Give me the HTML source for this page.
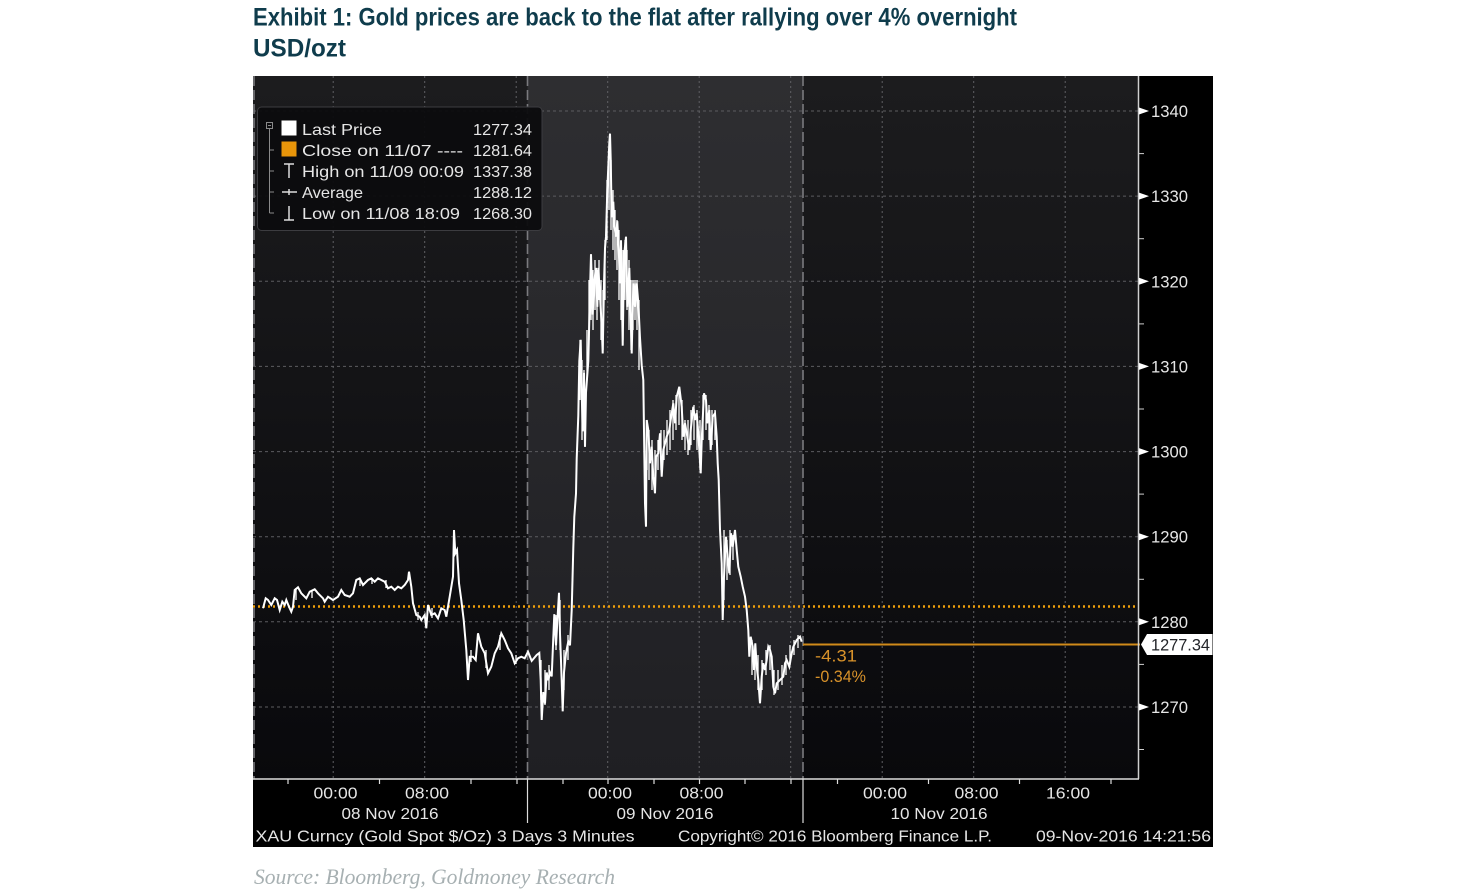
<!DOCTYPE html>
<html><head><meta charset="utf-8"><style>
html,body{margin:0;padding:0;background:#fff;}
svg{display:block;}
.ax{font-family:"Liberation Sans Narrow","Liberation Sans",sans-serif;fill:#e6e6e6;}
</style></head><body>
<svg width="1463" height="894" viewBox="0 0 1463 894" xmlns="http://www.w3.org/2000/svg">
<defs>
<linearGradient id="gd" x1="0" y1="0" x2="0" y2="1">
<stop offset="0" stop-color="#1c1c1e"/><stop offset="1" stop-color="#09090c"/>
</linearGradient>
<linearGradient id="gm" x1="0" y1="0" x2="0" y2="1">
<stop offset="0" stop-color="#2e2e31"/><stop offset="1" stop-color="#1f1f23"/>
</linearGradient>
</defs>
<!-- title -->
<text x="253" y="25.5" font-family="Liberation Sans, sans-serif" font-weight="bold" font-size="25" fill="#0f3c4c" textLength="764" lengthAdjust="spacingAndGlyphs">Exhibit 1: Gold prices are back to the flat after rallying over 4% overnight</text>
<text x="253" y="56.5" font-family="Liberation Sans, sans-serif" font-weight="bold" font-size="25" fill="#0f3c4c" textLength="93" lengthAdjust="spacingAndGlyphs">USD/ozt</text>

<!-- chart background -->
<rect x="253" y="76" width="960" height="771" fill="#000"/>
<rect x="253" y="76" width="274.5" height="703" fill="url(#gd)"/>
<rect x="527.5" y="76" width="275.5" height="703" fill="url(#gm)"/>
<rect x="803" y="76" width="335" height="703" fill="url(#gd)"/>

<!-- horizontal grid -->
<g stroke="#5c5c60" stroke-width="1" stroke-dasharray="3,3">
<line x1="253" y1="111" x2="1138" y2="111"/>
<line x1="253" y1="196.1" x2="1138" y2="196.1"/>
<line x1="253" y1="281.3" x2="1138" y2="281.3"/>
<line x1="253" y1="366.4" x2="1138" y2="366.4"/>
<line x1="253" y1="451.6" x2="1138" y2="451.6"/>
<line x1="253" y1="536.7" x2="1138" y2="536.7"/>
<line x1="253" y1="621.8" x2="1138" y2="621.8"/>
<line x1="253" y1="707" x2="1138" y2="707"/>
</g>
<!-- vertical grid -->
<g stroke="#606064" stroke-width="1" stroke-dasharray="2,3">
<line x1="333.2" y1="76" x2="333.2" y2="779"/>
<line x1="424.7" y1="76" x2="424.7" y2="779"/>
<line x1="516.2" y1="76" x2="516.2" y2="779"/>
<line x1="607.7" y1="76" x2="607.7" y2="779"/>
<line x1="699.2" y1="76" x2="699.2" y2="779"/>
<line x1="790.7" y1="76" x2="790.7" y2="779"/>
<line x1="882.2" y1="76" x2="882.2" y2="779"/>
<line x1="973.7" y1="76" x2="973.7" y2="779"/>
<line x1="1065.2" y1="76" x2="1065.2" y2="779"/>
</g>
<!-- session boundaries -->
<g stroke="#7a7a7e" stroke-width="1.6" stroke-dasharray="10,4">
<line x1="254" y1="76" x2="254" y2="779"/>
<line x1="527.5" y1="76" x2="527.5" y2="779"/>
<line x1="803" y1="76" x2="803" y2="779"/>
</g>

<!-- close dotted line -->
<line x1="253" y1="606.5" x2="1138" y2="606.5" stroke="#f0a00a" stroke-width="2.5" stroke-dasharray="2,3"/>
<!-- last price line -->
<line x1="803" y1="644.5" x2="1140" y2="644.5" stroke="#d08a1a" stroke-width="2"/>

<!-- price series -->
<polyline fill="none" stroke="#ffffff" stroke-width="2" stroke-linejoin="miter" points="
263,608.3 265.7,598.3 268,600 271.3,605 274.7,598.3 277,600 279.7,610 282.3,601.7 284.7,605 286.3,600 289,606.7 291.3,611.7 293,606.7 294.7,590 298,587.3 301.3,593.3 306.3,598.3 309.7,591.7 314.7,589.3 318,593.3 323,598.3 324.7,601.7 328,596.7 333,600 338,596.7 341.3,590 344.7,595 349.7,596.7 353,593.3 356.3,580 359.7,578.3 363,585 368,580 371.3,578.3 374.7,581.7 378,578.3 381.3,580 384.7,581.7 388,588.3 391.3,586.7 394.7,590 398,586.7 401.3,588.3 404.7,585 408,580 409,571.7 411.3,586.7 413,603.3 416.3,615 419.7,616.7 421.3,620 424.7,615 426.3,628.3 428,605 431.3,615 434.7,613.3 438,618.3 441.3,608.3 444.7,610 446.3,616.7 449.7,596.7 453,576.7 454,530 455.3,553.3 457,550 459,583.3 461.3,600 463.7,620 466.3,650 468,680 469.7,656.7 473,656.7 475.7,660 478,633.3 481.3,646.7 484.7,653.3 488,673.3 491.3,666.7 494.7,653.3 498,646.7 501.3,633.3 504.7,640 508,648.3 511.3,653.3 514.7,663.3 518,658.3 521.3,656.7 524.7,658.3 528,651.7
531.7,660.9 536.7,655 539.3,653 540.7,680.3 541.7,720 543.3,692 545,703.6 546.7,672.5 548.3,680.3 550,672.5 551.7,676.4 553.3,637.5 554.3,614.2 556,645.3 557.3,622 559,592.8 560,633.6 561.7,680.3 562.7,711.4 564,672.5 566,653 568.3,641.4 570,645.3 571.7,610.3 573.3,548 574.3,516.9 576,493.5 576.7,458.5 578.3,415.7 579.3,361.2 580.7,339.8 581.7,392.4 582.7,431.3 584,372.9 585,446.8 586,392.4 588.3,361.2 590,291.2 591,254.2 592.7,314.6 594,283.4 596,267.9 597.3,306.8 598.3,267.9 600,295.1 601.7,326.2 602.7,353.5 604,283.4 605,248.4 606,236.7 607.3,190 608.3,166.7 609.3,143.3 610,133.6 610.7,158.9 611.7,217.3 613.3,201.7 614.3,225.1 616,236.7 617.3,221.2 618.7,248.4 620,283.4 621,240.6 622.7,345.7 624,256.2 626,236.7 627.3,306.8 629.3,267.9 631.7,353.5 633.3,283.4 635,306.8 636.7,283.4 638.3,302.9 640,337.9 641.7,365.1
643.3,380 645,503.3 646,526.7 646.7,420 648.3,430 650,463.3 651.7,446.7 653.3,476.7 655,493.3 656,456.7 658.3,453.3 660,433.3 661.7,476.7 663.3,450 666.7,436.7 669.3,430 670.7,420 673.3,403.3 675,423.3 676.7,396.7 679.3,386.7 681.7,406.7 683.3,436.7 685,423.3 687.3,436.7 689.3,450 690.7,430 693.3,406.7 695,420 696.7,413.3 698.3,433.3 700.7,473.3 701.7,440 704,393.3 706,400 707.3,423.3 709.3,410 710.7,450 712.7,416.7 715,413.3 716.7,436.7 717.7,463.3 718.7,480 720,530 721.7,563.3 722.7,620 724,576.7 726,536.7 727.7,556.7 729.3,573.3 731,533.3 732.7,546.7 735,530 736.7,550 738.3,566.7 740.7,576.7 742.7,586.7 745,596.7 746.7,610 748.3,630 749.3,656.7 750.7,636.7 752.7,646.7 754,670 755.3,643.3 756.7,666.7 758.3,680 760,703.3 761.7,676.7 763.3,663.3 765,670 766.7,660 768.3,646.7 770,650 771.7,656.7 773.3,686.7 775,693.3 776.7,683.3 780,680 783.3,676.7 785,663.3 786.7,660 789.3,666.7 791.7,653.3 793.3,646.7 796.7,640 800,636.7 801.7,641.7"/>
<!-- high-frequency jitter to mimic dense tick data -->
<path fill="none" stroke="#ffffff" stroke-width="1.3" d="
M580,340V400 M582,360V440 M584,370V430 M587,330V380 M589,280V340 M591,260V320 M593,270V330 M595,260V310 M597,270V320 M599,260V300 M601,280V340 M603,290V350 M605,240V300 M607,180V240 M609,150V210 M611,160V230 M613,190V250 M615,210V260 M617,220V270 M619,230V300 M621,240V320 M623,250V340 M625,240V300 M627,250V310 M629,260V330 M631,280V350 M633,280V330 M635,280V320 M637,280V330 M639,300V370
M647,420V470 M649,430V480 M652,440V490 M655,450V480 M658,440V470 M661,430V470 M664,430V460 M667,420V455 M670,410V450 M673,400V440 M676,395V430 M679,390V425 M682,400V440 M685,420V450 M688,420V455 M691,410V445 M694,405V440 M697,410V450 M700,420V470 M703,395V440 M706,395V430 M709,405V440 M712,410V445 M715,410V440
M724,530V600 M727,540V580 M730,530V575 M733,535V560
M752,640V675 M755,645V680 M758,655V690 M762,660V690 M766,650V675 M770,645V670 M774,670V695 M778,670V690 M782,665V685 M786,655V675 M790,645V665 M794,640V655 M798,635V648
M541,660V700 M545,670V705 M549,665V690 M556,615V650 M560,600V650 M564,650V690 M568,635V660
M296,588V600 M312,590V598 M360,578V586 M372,578V584 M386,580V588 M418,612V620 M432,608V618 M471,650V662 M486,650V668 M500,635V650 M516,655V664"/>

<!-- change annotation -->
<text x="815" y="661.5" font-family="Liberation Sans Narrow, Liberation Sans, sans-serif" font-size="17" fill="#d8922a" textLength="42" lengthAdjust="spacingAndGlyphs">-4.31</text>
<text x="815" y="682" font-family="Liberation Sans Narrow, Liberation Sans, sans-serif" font-size="17" fill="#d8922a" textLength="51" lengthAdjust="spacingAndGlyphs">-0.34%</text>

<!-- legend -->
<rect x="257.5" y="107" width="284.5" height="123.5" rx="4" fill="#0c0c0e" fill-opacity="0.95" stroke="#3c3c40" stroke-width="1"/>
<g stroke="#8a8a8a" stroke-width="1" fill="none">
<rect x="266.5" y="122.5" width="6" height="6"/>
<line x1="268" y1="125.5" x2="271" y2="125.5"/>
<line x1="269.5" y1="129" x2="269.5" y2="213"/>
<line x1="269.5" y1="150" x2="274" y2="150"/>
<line x1="269.5" y1="171" x2="274" y2="171"/>
<line x1="269.5" y1="192" x2="274" y2="192"/>
<line x1="269.5" y1="213" x2="274" y2="213"/>
</g>
<rect x="281.5" y="120.5" width="15" height="15" fill="#ffffff"/>
<rect x="281.5" y="141.5" width="15" height="15" fill="#e8950a"/>
<g stroke="#dddddd" stroke-width="1.5" fill="none">
<line x1="284" y1="164" x2="294" y2="164"/><line x1="289" y1="164" x2="289" y2="178"/>
<line x1="282" y1="192" x2="297" y2="192"/><line x1="289" y1="189" x2="289" y2="195"/>
<line x1="289" y1="206" x2="289" y2="220"/><line x1="284" y1="220" x2="294" y2="220"/>
</g>
<g class="ax" font-size="16">
<text x="302" y="135" textLength="80" lengthAdjust="spacingAndGlyphs">Last Price</text>
<text x="302" y="156" textLength="161" lengthAdjust="spacingAndGlyphs">Close on 11/07 ----</text>
<text x="302" y="177" textLength="162" lengthAdjust="spacingAndGlyphs">High on 11/09 00:09</text>
<text x="302" y="198" textLength="61" lengthAdjust="spacingAndGlyphs">Average</text>
<text x="302" y="219" textLength="158" lengthAdjust="spacingAndGlyphs">Low on 11/08 18:09</text>
<text x="473" y="135" textLength="59" lengthAdjust="spacingAndGlyphs">1277.34</text>
<text x="473" y="156" textLength="59" lengthAdjust="spacingAndGlyphs">1281.64</text>
<text x="473" y="177" textLength="59" lengthAdjust="spacingAndGlyphs">1337.38</text>
<text x="473" y="198" textLength="59" lengthAdjust="spacingAndGlyphs">1288.12</text>
<text x="473" y="219" textLength="59" lengthAdjust="spacingAndGlyphs">1268.30</text>
</g>

<!-- axes -->
<line x1="1138.5" y1="76" x2="1138.5" y2="779" stroke="#cfcfcf" stroke-width="1.5"/>
<line x1="253" y1="779" x2="1139" y2="779" stroke="#dcdcdc" stroke-width="1.5"/>
<g fill="#ffffff">
<polygon points="1139,107.5 1149,111 1139,114.5"/>
<polygon points="1139,192.6 1149,196.1 1139,199.6"/>
<polygon points="1139,277.8 1149,281.3 1139,284.8"/>
<polygon points="1139,362.9 1149,366.4 1139,369.9"/>
<polygon points="1139,448.1 1149,451.6 1139,455.1"/>
<polygon points="1139,533.2 1149,536.7 1139,540.2"/>
<polygon points="1139,618.3 1149,621.8 1139,625.3"/>
<polygon points="1139,703.5 1149,707 1139,710.5"/>
</g>
<g stroke="#cfcfcf" stroke-width="1">
<line x1="1138" y1="153.6" x2="1144" y2="153.6"/>
<line x1="1138" y1="238.7" x2="1144" y2="238.7"/>
<line x1="1138" y1="323.9" x2="1144" y2="323.9"/>
<line x1="1138" y1="409" x2="1144" y2="409"/>
<line x1="1138" y1="494.1" x2="1144" y2="494.1"/>
<line x1="1138" y1="579.3" x2="1144" y2="579.3"/>
<line x1="1138" y1="664.4" x2="1144" y2="664.4"/>
<line x1="1138" y1="749.5" x2="1144" y2="749.5"/>
</g>
<g class="ax" font-size="17">
<text x="1151" y="117" textLength="37" lengthAdjust="spacingAndGlyphs">1340</text>
<text x="1151" y="202.1" textLength="37" lengthAdjust="spacingAndGlyphs">1330</text>
<text x="1151" y="287.3" textLength="37" lengthAdjust="spacingAndGlyphs">1320</text>
<text x="1151" y="372.4" textLength="37" lengthAdjust="spacingAndGlyphs">1310</text>
<text x="1151" y="457.6" textLength="37" lengthAdjust="spacingAndGlyphs">1300</text>
<text x="1151" y="542.7" textLength="37" lengthAdjust="spacingAndGlyphs">1290</text>
<text x="1151" y="627.8" textLength="37" lengthAdjust="spacingAndGlyphs">1280</text>
<text x="1151" y="713" textLength="37" lengthAdjust="spacingAndGlyphs">1270</text>
</g>
<!-- last price label -->
<polygon points="1141,644.5 1147,634 1212.5,634 1212.5,655 1147,655" fill="#ffffff"/>
<text x="1151" y="650.5" font-family="Liberation Sans Narrow, Liberation Sans, sans-serif" font-size="17" fill="#222428" textLength="59" lengthAdjust="spacingAndGlyphs">1277.34</text>

<!-- bottom ticks -->
<g stroke="#dcdcdc" stroke-width="1.2">
<line x1="288" y1="779" x2="288" y2="784"/>
<line x1="379.5" y1="779" x2="379.5" y2="784"/>
<line x1="471" y1="779" x2="471" y2="784"/>
<line x1="517" y1="779" x2="517" y2="784"/>
<line x1="563" y1="779" x2="563" y2="784"/>
<line x1="608" y1="779" x2="608" y2="784"/>
<line x1="654" y1="779" x2="654" y2="784"/>
<line x1="699.5" y1="779" x2="699.5" y2="784"/>
<line x1="745" y1="779" x2="745" y2="784"/>
<line x1="791" y1="779" x2="791" y2="784"/>
<line x1="837.5" y1="779" x2="837.5" y2="784"/>
<line x1="928.5" y1="779" x2="928.5" y2="784"/>
<line x1="1019.5" y1="779" x2="1019.5" y2="784"/>
<line x1="1111" y1="779" x2="1111" y2="784"/>
<line x1="527.5" y1="779" x2="527.5" y2="823"/>
<line x1="803" y1="779" x2="803" y2="823"/>
</g>
<g class="ax" font-size="16" text-anchor="middle">
<text x="335.5" y="798.5" textLength="44" lengthAdjust="spacingAndGlyphs">00:00</text>
<text x="427" y="798.5" textLength="44" lengthAdjust="spacingAndGlyphs">08:00</text>
<text x="610" y="798.5" textLength="44" lengthAdjust="spacingAndGlyphs">00:00</text>
<text x="701.5" y="798.5" textLength="44" lengthAdjust="spacingAndGlyphs">08:00</text>
<text x="885" y="798.5" textLength="44" lengthAdjust="spacingAndGlyphs">00:00</text>
<text x="976.5" y="798.5" textLength="44" lengthAdjust="spacingAndGlyphs">08:00</text>
<text x="1068" y="798.5" textLength="44" lengthAdjust="spacingAndGlyphs">16:00</text>
<text x="390" y="819" textLength="97" lengthAdjust="spacingAndGlyphs">08 Nov 2016</text>
<text x="665" y="819" textLength="97" lengthAdjust="spacingAndGlyphs">09 Nov 2016</text>
<text x="939" y="819" textLength="97" lengthAdjust="spacingAndGlyphs">10 Nov 2016</text>
</g>
<g class="ax" font-size="16">
<text x="255.5" y="841.5" textLength="379" lengthAdjust="spacingAndGlyphs">XAU Curncy (Gold Spot   $/Oz) 3 Days 3 Minutes</text>
<text x="678" y="841.5" textLength="314" lengthAdjust="spacingAndGlyphs">Copyright© 2016 Bloomberg Finance L.P.</text>
<text x="1036" y="841.5" textLength="175" lengthAdjust="spacingAndGlyphs">09-Nov-2016 14:21:56</text>
</g>

<!-- source -->
<text x="254" y="884" font-family="Liberation Serif, serif" font-style="italic" font-size="22" fill="#a7b0b2" textLength="361" lengthAdjust="spacingAndGlyphs">Source: Bloomberg, Goldmoney Research</text>
</svg>
</body></html>
